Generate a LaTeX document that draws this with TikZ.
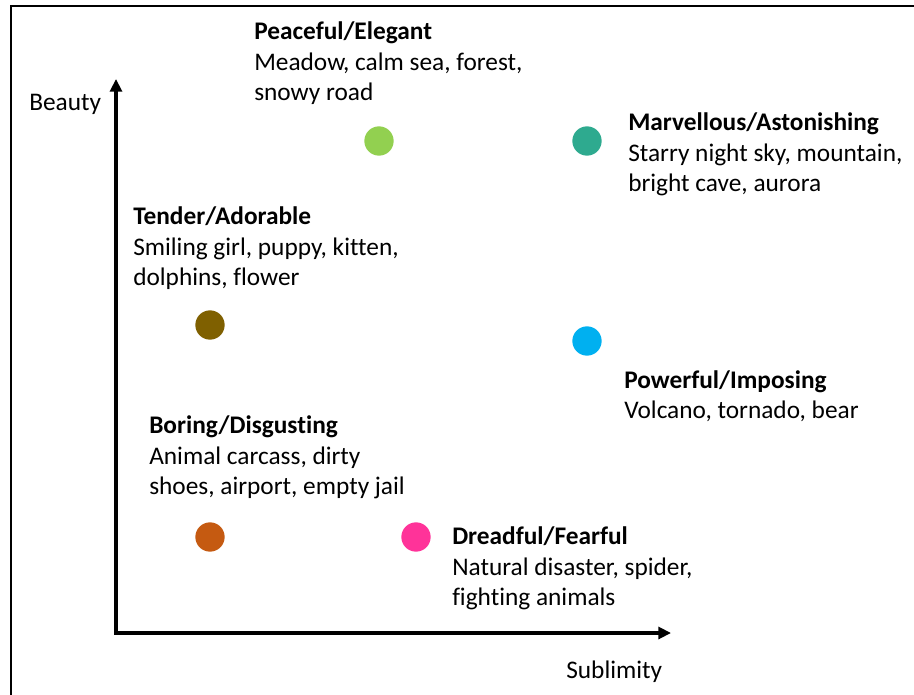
\documentclass[tikz,border=0pt]{standalone}
\usepackage{fontspec}
\setmainfont[Ligatures=NoCommon]{Carlito}
\usetikzlibrary{arrows.meta}
\definecolor{cGreen}{HTML}{92D050}
\definecolor{cTeal}{HTML}{2EAA8F}
\definecolor{cBrown}{HTML}{7F6000}
\definecolor{cBlue}{HTML}{00B0F0}
\definecolor{cOrange}{HTML}{C55A11}
\definecolor{cPink}{HTML}{FF3399}
\tikzset{
  lbl/.style={anchor=base west, inner sep=0pt, font=\fontsize{19}{23}\selectfont},
  ttl/.style={lbl, font=\fontsize{19}{23}\selectfont\bfseries},
  dot/.style={circle, inner sep=0pt, minimum size=22pt},
  axis/.style={line width=2.3pt, line join=miter, {Triangle[width=9pt,length=9.5pt]}-{Triangle[width=9pt,length=9.5pt]}},
  frame/.style={line width=1.5pt}
}
\begin{document}
\begin{tikzpicture}[x=0.75pt, y=-0.75pt]
\useasboundingbox (0,0) rectangle (914,695);
% frame
\draw[frame] (11,700) -- (11,6) -- (920,6);
% axes
\coordinate (ytip) at (116,79);
\coordinate (org) at (116,633);
\coordinate (xtip) at (671,633);
\draw[axis] (ytip) -- (org) -- (xtip);
\node[lbl] (beauty) at (29,111) {Beauty};
\node[lbl] (sublim) at (566,678) {Sublimity};
% dots
\node[dot, fill=cGreen]  (dGreen)  at (379,141) {};
\node[dot, fill=cTeal]   (dTeal)   at (587,141) {};
\node[dot, fill=cBrown]  (dBrown)  at (210,325) {};
\node[dot, fill=cBlue]   (dBlue)   at (587,341) {};
\node[dot, fill=cOrange] (dOrange) at (210,537) {};
\node[dot, fill=cPink]   (dPink)   at (416,537) {};
% Peaceful
\node[ttl] (p0) at (254,40) {Peaceful/Elegant};
\node[lbl] (p1) at (254,71) {Meadow, calm sea, forest,};
\node[lbl] (p2) at (254,101) {snowy road};
% Marvellous
\node[ttl] (m0) at (628,131) {Marvellous/Astonishing};
\node[lbl] (m1) at (628,162) {Starry night sky, mountain,};
\node[lbl] (m2) at (628,192) {bright cave, aurora};
% Tender
\node[ttl] (t0) at (133,225) {Tender/Adorable};
\node[lbl] (t1) at (133,256) {Smiling girl, puppy, kitten,};
\node[lbl] (t2) at (133,286) {dolphins, flower};
% Powerful
\node[ttl] (w0) at (624,388) {Powerful/Imposing};
\node[lbl] (w1) at (624,418) {Volcano, tornado, bear};
% Boring
\node[ttl] (b0) at (149,433) {Boring/Disgusting};
\node[lbl] (b1) at (149,464) {Animal carcass, dirty};
\node[lbl] (b2) at (149,494) {shoes, airport, empty jail};
% Dreadful
\node[ttl] (f0) at (452,544) {Dreadful/Fearful};
\node[lbl] (f1) at (452,575) {Natural disaster, spider,};
\node[lbl] (f2) at (452,605) {fighting animals};
\end{tikzpicture}
\end{document}
